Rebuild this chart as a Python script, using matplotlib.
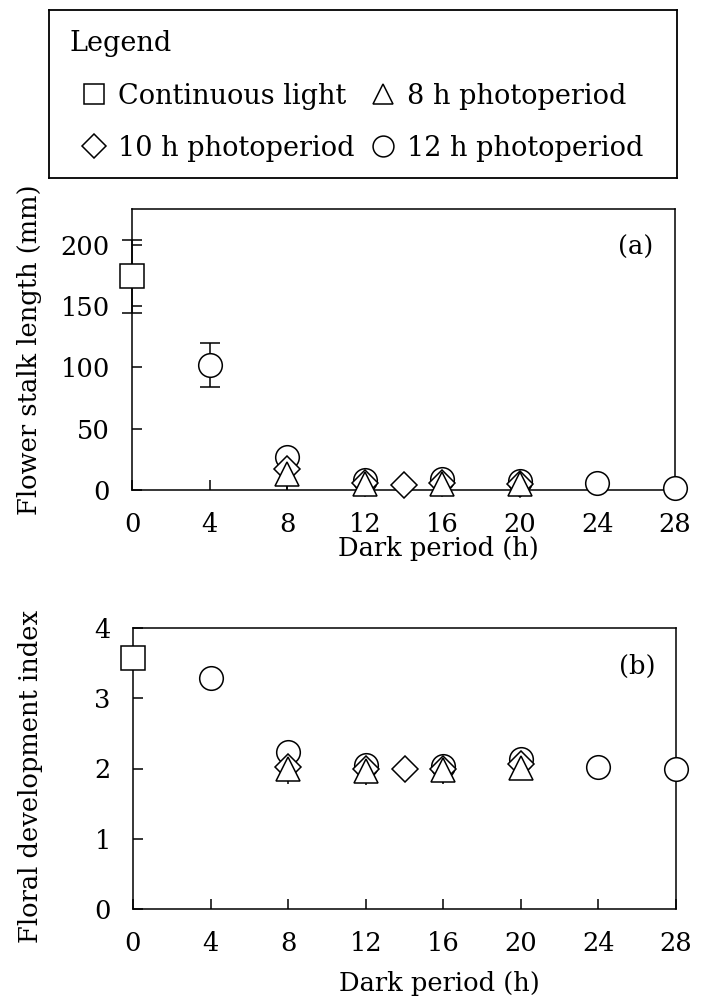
import numpy as np
import matplotlib
matplotlib.use('Agg')
import matplotlib.pyplot as plt
from matplotlib.lines import Line2D

plt.rcParams['font.family'] = 'DejaVu Serif'
plt.rcParams['font.size'] = 18.5

# Dark period (h) and measurements for each light treatment
cont_x = [0]
cont_len = [174]
cont_len_err = [30]
cont_idx = [3.58]

p12_x = [4, 8, 12, 16, 20, 24, 28]
p12_len = [102, 27, 8, 9, 7, 6, 2]
p12_len_err = [18, 0, 0, 0, 0, 0, 0]
p12_idx = [3.29, 2.24, 2.05, 2.03, 2.14, 2.02, 2.0]

p10_x = [8, 12, 14, 16, 20]
p10_len = [17, 6, 4, 6, 5]
p10_idx = [2.02, 2.0, 2.0, 2.0, 2.06]

p8_x = [8, 12, 16, 20]
p8_len = [13, 5, 5, 5]
p8_len_err = [13, 0, 7, 0]
p8_idx = [1.99, 1.97, 1.98, 2.01]
p8_idx_err = [0.21, 0.2, 0.2, 0]

labels = ['Continuous light', '10 h photoperiod', '8 h photoperiod', '12 h photoperiod']

FS = 18.5
MEW = 1.1


def draw_errors(ax, x, y, err, capsize):
    x, y, err = map(np.asarray, (x, y, err))
    keep = err > 0
    if not keep.any():
        return
    eb = ax.errorbar(x[keep], y[keep], yerr=err[keep], fmt='none', ecolor='black',
                     elinewidth=MEW, capsize=capsize, capthick=MEW, zorder=3)
    for art in eb.lines[1] + eb.lines[2]:
        art.set_clip_on(False)


def draw_marks(ax, x, y, marker, ms, z):
    ax.plot(x, y, linestyle='none', marker=marker, ms=ms, mfc='white', mec='black',
            mew=MEW, zorder=z, clip_on=False)


def style_axes(ax, ylim, yticks, tag, xlabel_y):
    ax.set_xlim(0, 28)
    ax.set_ylim(*ylim)
    ax.set_xticks(np.arange(0, 29, 4))
    ax.set_yticks(yticks)
    ax.tick_params(direction='in', length=7, width=MEW, pad=16, labelsize=FS,
                   top=False, right=False)
    for sp in ax.spines.values():
        sp.set_linewidth(MEW)
    ax.set_xlabel('Dark period (h)', fontsize=FS)
    ax.xaxis.set_label_coords(0.565, xlabel_y)
    ax.text(0.928, 0.862, tag, transform=ax.transAxes, ha='center', va='center', fontsize=FS)


fig = plt.figure(figsize=(7.03, 10.08), dpi=100)
W, H = 703, 1008


def px_axes(left, top, right, bottom):
    return fig.add_axes([left / W, 1 - bottom / H, (right - left) / W, (bottom - top) / H])


# (a) flower stalk length
ax_a = px_axes(132, 209, 675, 490)
draw_errors(ax_a, cont_x, cont_len, cont_len_err, 7)
draw_errors(ax_a, p12_x, p12_len, p12_len_err, 7)
draw_errors(ax_a, p8_x, p8_len, p8_len_err, 0)
draw_marks(ax_a, cont_x, cont_len, 's', 17, 4)
draw_marks(ax_a, p12_x, p12_len, 'o', 17, 4)
draw_marks(ax_a, p10_x, p10_len, 'D', 13, 5)
draw_marks(ax_a, p8_x, p8_len, '^', 17, 6)
style_axes(ax_a, (0, 229), np.arange(0, 201, 50), '(a)', -0.165)
ax_a.set_ylabel('Flower stalk length (mm)', fontsize=FS)
ax_a.yaxis.set_label_coords(-0.166, 0.5)

# (b) floral development index
ax_b = px_axes(133, 628, 676, 909)
draw_errors(ax_b, p8_x, p8_idx, p8_idx_err, 0)
draw_marks(ax_b, cont_x, cont_idx, 's', 17, 4)
draw_marks(ax_b, p12_x, p12_idx, 'o', 17, 4)
draw_marks(ax_b, p10_x, p10_idx, 'D', 13, 5)
draw_marks(ax_b, p8_x, p8_idx, '^', 17, 6)
style_axes(ax_b, (0, 4), np.arange(0, 5, 1), '(b)', -0.222)
ax_b.set_ylabel('Floral development index', fontsize=FS)
ax_b.yaxis.set_label_coords(-0.166, 0.47)

# boxed key at the top
ax_key = px_axes(49, 10, 677, 178)
ax_key.set_xticks([])
ax_key.set_yticks([])
for sp in ax_key.spines.values():
    sp.set_linewidth(1.3)
handles = [Line2D([], [], linestyle='none', marker=m, ms=s, mfc='white', mec='black', mew=MEW)
           for m, s in [('s', 15), ('D', 12), ('^', 15), ('o', 15)]]
ax_key.legend(handles, labels, ncol=2, title='Legend', alignment='left', loc='upper left',
              bbox_to_anchor=(0.0, 1.0), frameon=False, fontsize=19.5, title_fontsize=19.5,
              handlelength=1.8, handletextpad=0.0, columnspacing=0.15, labelspacing=0.93,
              borderpad=0.45, borderaxespad=0.3)

fig.savefig('out.png', dpi=100)
